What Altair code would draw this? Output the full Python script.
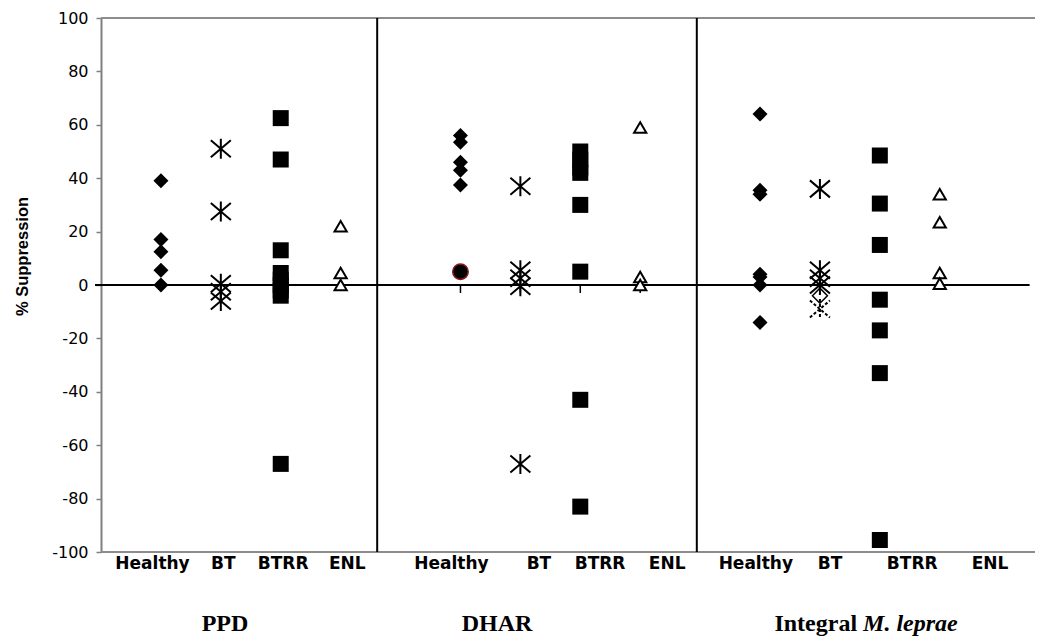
import altair as alt
import pandas as pd

# ---------------- data (% suppression) ----------------
panels = ["PPD", "DHAR", "Integral M. leprae"]
groups = ["Healthy", "BT", "BTRR", "ENL"]

ppd_healthy = [39, 17, 12.5, 5.5, 0]
ppd_bt = [51, 27.5, 0.5, -2.5, -6]
ppd_btrr = [62.5, 47, 13, 4.5, 2, 0, -2, -4, -67]
ppd_enl = [22, 4.5, 0]

dhar_healthy = [56, 53.5, 46, 43, 37.5]
dhar_healthy_circled = [5]
dhar_bt = [37, 5.5, 2.5, -0.5, -67]
dhar_btrr = [50, 47, 44, 42, 30, 5, -43, -83]
dhar_enl = [59, 3, 0]

ml_healthy = [64, 35.5, 34, 4, 3, 0, -14]
ml_bt = [36, 5.5, 2.5, 0]
ml_bt_open = [-4]
ml_bt_dashed = [-9]
ml_btrr = [48.5, 30.5, 15, -5.5, -17, -33, -95.5]
ml_enl = [34, 23.5, 4.5, 0.5]

y_ticks = list(range(-100, 101, 20))

series = [
    (0, 0, "diamond", ppd_healthy), (0, 1, "star", ppd_bt),
    (0, 2, "square", ppd_btrr), (0, 3, "triangle", ppd_enl),
    (1, 0, "diamond", dhar_healthy), (1, 0, "circle", dhar_healthy_circled),
    (1, 1, "star", dhar_bt), (1, 2, "square", dhar_btrr), (1, 3, "triangle", dhar_enl),
    (2, 0, "diamond", ml_healthy), (2, 1, "star", ml_bt),
    (2, 1, "odiamond", ml_bt_open), (2, 1, "dstar", ml_bt_dashed),
    (2, 2, "square", ml_btrr), (2, 3, "triangle", ml_enl),
]

# ---------------- layout (slot units along x) ----------------
X_MAX = 15.59
rows = []
for p, g, marker, vals in series:
    for v in vals:
        rows.append({"panel": panels[p], "group": groups[g], "marker": marker,
                     "x": 1 + 5 * p + g, "value": v})
df = pd.DataFrame(rows)

label_x = [0.86, 2.04, 3.04, 4.11, 5.85, 7.31, 8.33, 9.45, 10.93, 12.17, 13.54, 14.84]
labels_df = pd.DataFrame({"x": label_x, "text": groups * 3, "value": -100})
divider_df = pd.DataFrame({"x": [4.61, 9.945], "value": 100, "value2": -100})
ticks_df = pd.DataFrame({"x": [6, 7, 8, 9], "value": 0, "value2": -3})
zero_df = pd.DataFrame({"x": [-0.1], "x2": [15.5], "value": [0]})
border_df = pd.DataFrame({"value": [100, -100]})

xs = alt.Scale(domain=[0, X_MAX], nice=False, zero=False)
ys = alt.Scale(domain=[-100, 100], nice=False)


def X():
    return alt.X("x:Q", scale=xs, axis=None)


yaxis = alt.Axis(values=y_ticks, title="% Suppression", grid=False,
                 labelExpr="'' + datum.value",
                 domainColor="#808080", domainWidth=2,
                 tickColor="#808080", tickSize=5, tickWidth=1.5,
                 labelFont="DejaVu Sans", labelFontSize=16,
                 labelColor="black", labelPadding=8,
                 titleFont="Liberation Sans", titleFontSize=16.5,
                 titleFontWeight="bold", titleColor="black",
                 titleAngle=270, titleX=-79, titleY=238,
                 titleAlign="center", titleBaseline="middle")


def Y():
    return alt.Y("value:Q", scale=ys, axis=yaxis)


STAR = "M0,-1L0,1M-1,-0.85L1,0.85M-1,0.85L1,-0.85"

base = alt.Chart(df)


def pts(marker):
    return base.transform_filter(alt.datum.marker == marker)


border = alt.Chart(border_df).mark_rule(color="#8c8c8c", strokeWidth=2).encode(y=Y())

zero_line = alt.Chart(zero_df).mark_rule(color="black", strokeWidth=2).encode(
    x=X(), x2="x2:Q", y=Y())

ticks0 = alt.Chart(ticks_df).mark_rule(color="black", strokeWidth=1.5).encode(
    x=X(), y=Y(), y2="value2:Q")

dividers = alt.Chart(divider_df).mark_rule(color="black", strokeWidth=2).encode(
    x=X(), y=Y(), y2="value2:Q")

circles = pts("circle").mark_point(shape="circle", filled=True, fill="black",
                                   stroke="#8b1a1a", strokeWidth=1.5, size=240,
                                   opacity=1).encode(x=X(), y=Y())
diamonds = pts("diamond").mark_point(shape="diamond", filled=True, color="black",
                                     size=225, opacity=1).encode(x=X(), y=Y())
odiamonds = pts("odiamond").mark_point(shape="diamond", filled=True, fill="white",
                                       stroke="black", strokeWidth=1.5, size=225,
                                       opacity=1).encode(x=X(), y=Y())
squares = pts("square").mark_point(shape="square", filled=True, color="black",
                                   size=256, opacity=1).encode(x=X(), y=Y())
stars = pts("star").mark_point(shape=STAR, filled=False, color="black",
                               strokeWidth=2, size=400, opacity=1).encode(x=X(), y=Y())
dstars = pts("dstar").mark_point(shape=STAR, filled=False, color="black",
                                 strokeWidth=2, strokeDash=[3, 2], size=400,
                                 opacity=1).encode(x=X(), y=Y())
triangles = pts("triangle").mark_point(shape="triangle-up", filled=True, fill="white",
                                       stroke="black", strokeWidth=2, size=150,
                                       opacity=1).encode(x=X(), y=Y())

cat_labels = alt.Chart(labels_df).mark_text(
    font="DejaVu Sans", fontSize=17, fontWeight="bold", color="black",
    baseline="alphabetic", align="center", dy=17).encode(
    x=X(), y=Y(), text="text:N")

titles_df = pd.DataFrame({"x": [2.07, 6.61], "text": ["PPD", "DHAR"], "value": -100})
panel_titles = alt.Chart(titles_df).mark_text(
    font="Liberation Serif", fontSize=24, fontWeight="bold", color="black",
    baseline="alphabetic", align="center", dy=79).encode(
    x=X(), y=Y(), text="text:N")

ml_a = alt.Chart(pd.DataFrame({"x": [12.62], "text": ["Integral"], "value": [-100]})).mark_text(
    font="Liberation Serif", fontSize=24, fontWeight="bold", color="black",
    baseline="alphabetic", align="right", dy=79).encode(
    x=X(), y=Y(), text="text:N")
ml_b = alt.Chart(pd.DataFrame({"x": [12.62], "text": ["M. leprae"], "value": [-100]})).mark_text(
    font="Liberation Serif", fontSize=24, fontWeight="bold", fontStyle="italic",
    color="black", baseline="alphabetic", align="left", dx=6, dy=79).encode(
    x=X(), y=Y(), text="text:N")

chart = alt.layer(
    border, diamonds, zero_line, ticks0, dividers,
    circles, odiamonds, squares, stars, dstars, triangles,
    cat_labels, panel_titles, ml_a, ml_b,
).properties(
    width=934, height=534,
    autosize=alt.AutoSizeParams(type="none"),
    padding={"left": 101, "top": 18, "right": 12, "bottom": 87},
    background="white",
).configure_view(stroke=None)

chart.save("out.html", embed_options={"renderer": "svg", "actions": False})
